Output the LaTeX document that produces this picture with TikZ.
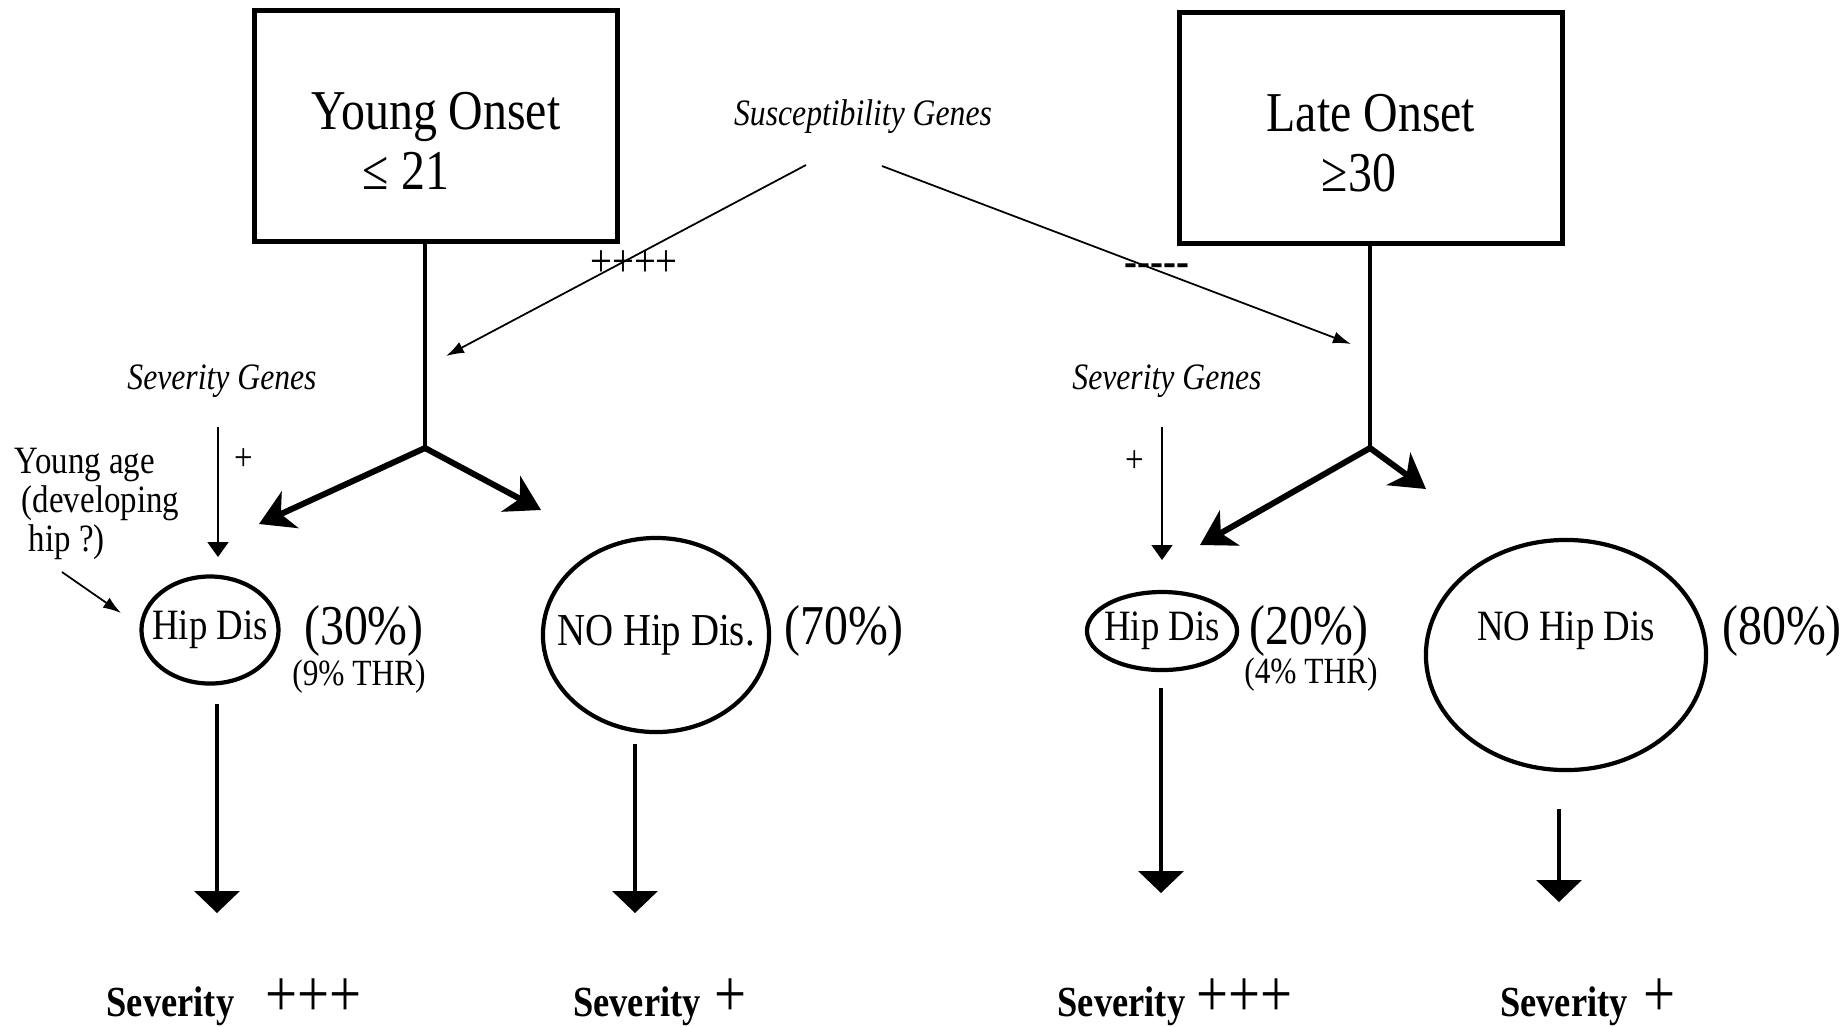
\documentclass[tikz,border=0pt]{standalone}
\usepackage{fontspec}
\setmainfont[FakeStretch=0.85]{Liberation Serif}
\usetikzlibrary{shapes.geometric,arrows.meta}

\begin{document}
\begin{tikzpicture}[x=0.01cm, y=-0.01cm,
  onset/.style={draw, line width=1.4pt, minimum height=2.31cm, align=center, font=\fontsize{16}{17}\selectfont},
  hip/.style={draw, ellipse, line width=1.2pt, inner xsep=-0.3cm, inner ysep=-0.1cm, font=\fontsize{12.3}{14}\selectfont},
  gene/.style={font=\itshape\fontsize{10.6}{12}\selectfont},
  age/.style={align=left, font=\fontsize{11}{11}\selectfont},
  pct/.style={font=\fontsize{16}{18}\selectfont},
  thr/.style={font=\fontsize{10.5}{12}\selectfont},
  sev/.style={font=\bfseries\fontsize{12.2}{14}\selectfont},
  smallsign/.style={font=\fontsize{11}{12}\selectfont},
  stem/.style={line width=1pt},
  branch/.style={line width=1.7pt, -{Stealth[length=0.34cm, width=0.4cm, inset=0.1cm]}},
  genearrow/.style={line width=0.5pt, -{Latex[length=0.18cm, width=0.12cm]}},
  sevgene/.style={line width=0.5pt, -{Triangle[length=0.15cm, width=0.21cm]}},
  sevarrow/.style={line width=1.1pt, -{Triangle[length=0.22cm, width=0.45cm]}}]
\useasboundingbox (0,0) rectangle (1848,1026);

\node[onset, minimum width=3.63cm] (yng) at (436,126) {\raisebox{-0.15cm}[\height][\depth]{Young Onset}\\\raisebox{-0.15cm}[\height][\depth]{≤ 21\hspace{0.6cm}}};
\node[onset, minimum width=3.82cm] (late) at (1371,128) {\raisebox{-0.15cm}[\height][\depth]{Late Onset}\\\raisebox{-0.15cm}[\height][\depth]{≥30\hspace{0.24cm}}};

\node[gene] (susc) at (863,117) {Susceptibility Genes};
\coordinate (suscL) at (806,165);
\coordinate (suscR) at (882,166);
\coordinate (yngIn) at (446,356);
\coordinate (lateIn) at (1351,344);
\draw[genearrow] (suscL) -- (yngIn);
\draw[genearrow] (suscR) -- (lateIn);
\node[smallsign, font=\fontsize{13}{14}\selectfont] (pp) at (634,264) {++++};
\node[smallsign, font=\bfseries\fontsize{13}{14}\selectfont] (mm) at (1157,270) {-\kern0pt-\kern0pt-\kern0pt-\kern0pt-};

\coordinate (yngJ) at (425,448);
\coordinate (yngL) at (259,524);
\coordinate (yngR) at (541,510);
\draw[stem] (yng.south -| yngJ) -- (yngJ);
\draw[branch] (yngJ) -- (yngL);
\draw[branch] (yngJ) -- (yngR);

\coordinate (lateJ) at (1370,448);
\coordinate (lateL) at (1200,545);
\coordinate (lateR) at (1426,489);
\draw[stem] (late.south -| lateJ) -- (lateJ);
\draw[branch] (lateJ) -- (lateL);
\draw[branch] (lateJ) -- (lateR);

\node[gene] (sgL) at (222,381) {Severity Genes};
\node[gene] (sgR) at (1167,381) {Severity Genes};
\coordinate (sgLtop) at (218,427);
\coordinate (sgLtip) at (218,557);
\coordinate (sgRtop) at (1162,427);
\coordinate (sgRtip) at (1162,560);
\draw[sevgene] (sgLtop) -- (sgLtip);
\draw[sevgene] (sgRtop) -- (sgRtip);
\node[smallsign] (pL) at (244,460) {+};
\node[smallsign] (pR) at (1135,462) {+};

\node[age] (age) at (97,504) {Young age\\\hspace{0.07cm}(developing\\\hspace{0.14cm}hip ?)};
\coordinate (ageFrom) at (62,572);
\coordinate (ageTo) at (121,613);
\draw[genearrow] (ageFrom) -- (ageTo);

\node[hip, minimum width=1.37cm, minimum height=1.07cm] (hipL) at (210,630) {Hip Dis};
\node[hip, minimum width=2.26cm, minimum height=1.94cm, font=\fontsize{13}{14}\selectfont] (noL) at (656,635) {NO Hip Dis.};
\node[hip, minimum width=1.5cm, minimum height=0.78cm] (hipR) at (1162,631) {Hip Dis};
\node[hip, minimum width=2.8cm, minimum height=2.3cm] (noR) at (1566,655) {\raisebox{0.24cm}[\height][\depth]{NO Hip Dis}};

\node[pct] (p30) at (364,631) {(30\%)};
\node[thr] (t9) at (359,677) {(9\% THR)};
\node[pct] (p70) at (844,631) {(70\%)};
\node[pct] (p20) at (1309,631) {(20\%)};
\node[thr] (t4) at (1311,675) {(4\% THR)};
\node[pct] (p80) at (1782,631) {(80\%)};

\coordinate (hipLend) at (217,913);
\coordinate (noLend) at (635,913);
\coordinate (hipRend) at (1161,893);
\coordinate (noRend) at (1559,902);
\draw[sevarrow, shorten <=0.18cm] (hipL.south -| hipLend) -- (hipLend);
\draw[sevarrow, shorten <=0.1cm] (noL.south -| noLend) -- (noLend);
\draw[sevarrow, shorten <=0.16cm] (hipR.south -| hipRend) -- (hipRend);
\draw[sevarrow, shorten <=0.37cm] (noR.south -| noRend) -- (noRend);

\node[sev] (sev1) at (234,1002) {Severity\hspace{0.31cm}{\mdseries\fontsize{19}{20}\selectfont +++}};
\node[sev] (sev2) at (660,1002) {Severity\hspace{0.14cm}{\mdseries\fontsize{19}{20}\selectfont +}};
\node[sev] (sev3) at (1175,1002) {Severity\hspace{0.11cm}{\mdseries\fontsize{19}{20}\selectfont +++}};
\node[sev] (sev4) at (1588,1002) {Severity\hspace{0.16cm}{\mdseries\fontsize{19}{20}\selectfont +}};
\end{tikzpicture}
\end{document}
